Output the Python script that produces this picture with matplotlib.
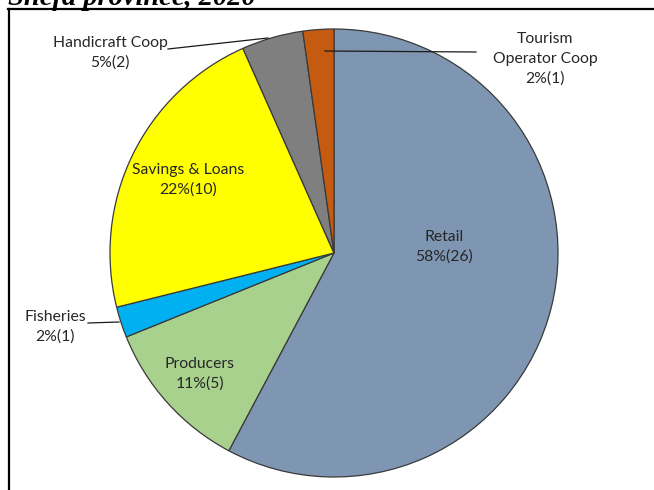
import matplotlib
matplotlib.use("Agg")
import matplotlib.pyplot as plt
from matplotlib.lines import Line2D

categories = ["Retail", "Producers", "Fisheries", "Savings & Loans", "Handicraft Coop", "Tourism\nOperator Coop"]
counts = [26, 5, 1, 10, 2, 1]
pct_labels = [58, 11, 2, 22, 5, 2]
colors = ["#7F96B2", "#A9D18E", "#00B0F0", "#FFFF00", "#7F7F7F", "#C55A11"]

W, H = 654, 490
fig = plt.figure(figsize=(W / 100, H / 100), dpi=100)
ax = fig.add_axes([0, 0, 1, 1])

cx, cy, r = 334, H - 253, 224
ax.pie(counts, colors=colors, startangle=90, counterclock=False,
       center=(cx, cy), radius=r, frame=True,
       wedgeprops=dict(edgecolor="#3a3a3a", linewidth=0.9))
ax.set_xlim(0, W)
ax.set_ylim(0, H)
ax.set_aspect("equal")
ax.axis("off")

font = "Lato"
tcol = "#262626"
fs = 11.3
# label positions (pixel coords, y from top)
label_pos = [(444, 247), (200, 374), (55, 327), (188, 180), (110, 53), (545, 59)]
for cat, n, p, (lx, ly) in zip(categories, counts, pct_labels, label_pos):
    ax.text(lx, H - ly, f"{cat}\n{p}%({n})", ha="center", va="center",
            fontsize=fs, family=font, color=tcol, linespacing=1.5)

# leader lines
leaders = [((88, 323), (119, 322)), ((168, 49), (268, 38)), ((476, 52), (325, 51))]
for (x0, y0), (x1, y1) in leaders:
    ax.plot([x0, x1], [H - y0, H - y1], color="#1a1a1a", lw=0.9)

# frame lines
fig.add_artist(Line2D([8 / W, 1], [1 - 9.5 / H, 1 - 9.5 / H], color="black", lw=1.6, transform=fig.transFigure))
fig.add_artist(Line2D([8.5 / W, 8.5 / W], [0, 1 - 9.5 / H], color="black", lw=1.6, transform=fig.transFigure))

# clipped title
fig.text(8 / W, 1 - 5 / H, "Shefa province, 2020", ha="left", va="baseline",
         fontsize=20.5, family="Liberation Serif", weight="bold", style="italic", color="black")

fig.savefig("out.png", dpi=100)
